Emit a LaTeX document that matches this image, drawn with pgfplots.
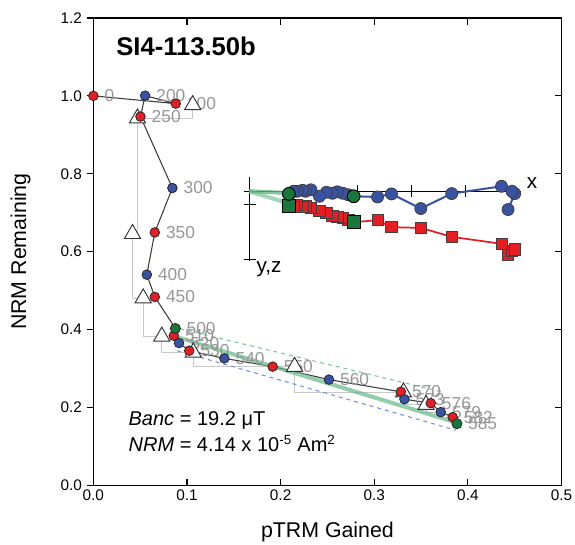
\documentclass[border=0pt]{standalone}
\usepackage{pgfplots}
\pgfplotsset{compat=1.18}
\usepackage{fontspec}
\setmainfont{Liberation Sans}
\definecolor{zblue}{RGB}{56,83,164}
\definecolor{zred}{RGB}{230,30,36}
\definecolor{zgreen}{RGB}{24,120,60}
\definecolor{fitgreen}{RGB}{100,185,135}
\definecolor{dgreen}{RGB}{120,200,150}
\definecolor{dblue}{RGB}{120,140,230}
\definecolor{lblgray}{RGB}{150,150,150}
\definecolor{ptrmgray}{RGB}{200,200,200}
\definecolor{linegray}{RGB}{60,60,60}
\begin{document}
\begin{tikzpicture}
\begin{axis}[name=ax, width=351pt, height=350.25pt, scale only axis,
  xmin=0, xmax=0.5, ymin=0, ymax=1.2,
  xtick={0,0.1,0.2,0.3,0.4,0.5}, ytick={0,0.2,0.4,0.6,0.8,1.0,1.2},
  xtick pos=both, xtick align=inside, ytick pos=left, ytick align=outside,
  major tick length=5pt,
  tick style={black, line width=0.8pt},
  axis line style={line width=1pt},
  /pgf/number format/assume math mode=true,
  xticklabel style={/pgf/number format/fixed,/pgf/number format/fixed zerofill,/pgf/number format/precision=1},
  yticklabel style={/pgf/number format/fixed,/pgf/number format/fixed zerofill,/pgf/number format/precision=1},
  tick label style={font=\fontsize{11.5}{13}\selectfont},
  xlabel={pTRM Gained}, ylabel={NRM Remaining},
  label style={font=\fontsize{16}{19}\selectfont},
  xlabel style={at={([yshift=-35pt]axis description cs:0.5,0)}, anchor=center},
  ylabel style={at={([xshift=-54.5pt]axis description cs:0,0.5)}, anchor=center},
  clip=false,
]
% point labels
\addplot[only marks, mark=none, nodes near coords, point meta=explicit symbolic,
  every node near coord/.append style={anchor=west, inner sep=0pt, xshift=8.25pt, text=lblgray, font=\fontsize{13}{15}\selectfont}]
 table[meta=label]{
x y label
0.0 1.0 0
0.0880 0.9800 100
0.0553 1.0005 200
0.0503 0.9468 250
0.0844 0.7633 300
0.0656 0.6492 350
0.0571 0.5407 400
0.0656 0.4836 450
0.0876 0.4025 500
0.0859 0.3838 510
0.0915 0.3651 520
0.1024 0.3454 530
0.1399 0.3257 540
0.1915 0.3045 550
0.2516 0.2712 560
0.3284 0.2398 570
0.3322 0.2208 573
0.3603 0.2106 576
0.3710 0.1876 579
0.3837 0.1748 582
0.3883 0.1579 585
};
% pTRM check staircase
\addplot[ptrmgray, line width=0.8pt] coordinates {
(0.1061,0.9767) (0.1061,0.9424) (0.0471,0.9424) (0.0471,0.6456) (0.0418,0.6456)
(0.0418,0.4803) (0.0532,0.4803) (0.0532,0.3820) (0.0731,0.3820) (0.0731,0.3411)
(0.1067,0.3411) (0.1067,0.3045) (0.2149,0.3045) (0.2149,0.2387) (0.3312,0.2387)
(0.3312,0.2065) (0.3553,0.2065) (0.3553,0.1868) (0.3766,0.1868)};
% pTRM check triangles
\addplot[only marks, mark=triangle*, mark size=7pt, mark options={fill=white, draw=black!80, line width=0.7pt}] coordinates {
(0.1061,0.9767) (0.0471,0.9424) (0.0418,0.6456) (0.0532,0.4803) (0.0731,0.3820)
(0.1067,0.3411) (0.2149,0.3045) (0.3312,0.2387) (0.3553,0.2065)};
% data path
\addplot[linegray, line width=0.8pt] coordinates {
(0.0,1.0) (0.0880,0.9800) (0.0553,1.0005) (0.0503,0.9468) (0.0844,0.7633)
(0.0656,0.6492) (0.0571,0.5407) (0.0656,0.4836) (0.0876,0.4025) (0.0859,0.3838)
(0.0915,0.3651) (0.1024,0.3454) (0.1399,0.3257) (0.1915,0.3045) (0.2516,0.2712)
(0.3284,0.2398) (0.3322,0.2208) (0.3603,0.2106) (0.3710,0.1876) (0.3837,0.1748)
(0.3883,0.1579)};
% red points
\addplot[only marks, mark=*, mark size=3.6pt, mark options={fill=zred, draw=black!85, line width=0.6pt}] coordinates {
(0.0,1.0) (0.0880,0.9800) (0.0503,0.9468) (0.0656,0.6492) (0.0656,0.4836)
(0.0859,0.3838) (0.1024,0.3454) (0.1915,0.3045) (0.3284,0.2398) (0.3603,0.2106)
(0.3837,0.1748)};
% blue points
\addplot[only marks, mark=*, mark size=3.6pt, mark options={fill=zblue, draw=black!85, line width=0.6pt}] coordinates {
(0.0553,1.0005) (0.0844,0.7633) (0.0571,0.5407) (0.0915,0.3651) (0.1399,0.3257)
(0.2516,0.2712) (0.3322,0.2208) (0.3710,0.1876)};
% green points
\addplot[only marks, mark=*, mark size=3.8pt, mark options={fill=zgreen, draw=black!85, line width=0.6pt}] coordinates {
(0.0876,0.4025) (0.3883,0.1579)};
% fit line and bounds
\addplot[fitgreen, opacity=0.7, line width=3pt] coordinates {(0.0883,0.3813) (0.3872,0.1612)};
\addplot[dgreen, dashed, line width=0.8pt] coordinates {(0.0926,0.4018) (0.3745,0.2385)};
\addplot[dblue, dashed, line width=0.8pt] coordinates {(0.0894,0.3454) (0.3872,0.1412)};
% ---- Zijderveld inset ----
\addplot[black, line width=0.7pt] coordinates {(0.1606,0.7549) (0.4564,0.7549)};
\addplot[black, line width=0.7pt] coordinates {(0.1663,0.7907) (0.1663,0.5757)};
\addplot[black, line width=0.7pt] coordinates {(0.2241,0.7702) (0.2241,0.7395)};
\addplot[black, line width=0.7pt] coordinates {(0.2819,0.7702) (0.2819,0.7395)};
\addplot[black, line width=0.7pt] coordinates {(0.3394,0.7702) (0.3394,0.7395)};
\addplot[black, line width=0.7pt] coordinates {(0.3979,0.7702) (0.3979,0.7395)};
\addplot[black, line width=0.7pt] coordinates {(0.1606,0.7208) (0.1740,0.7208)};
\addplot[black, line width=0.7pt] coordinates {(0.1606,0.5801) (0.1740,0.5801)};
% vertical projection (red squares)
\addplot[zred, line width=1.3pt, mark=square*, mark size=4.2pt, mark options={fill=zred, draw=black!75, line width=0.6pt}] coordinates {
(0.4429,0.5929) (0.4471,0.6013) (0.4500,0.6057) (0.4359,0.6200) (0.3827,0.6379)
(0.3497,0.6609) (0.3184,0.6627) (0.3035,0.6807) (0.2780,0.6755) (0.2723,0.6807)
(0.2665,0.6858) (0.2606,0.6883) (0.2553,0.6922) (0.2489,0.6998) (0.2415,0.7037)
(0.2324,0.7114) (0.2266,0.7165) (0.2234,0.7139) (0.2176,0.7190) (0.2138,0.7152)
(0.2088,0.7165)};
\addplot[fitgreen, opacity=0.6, line width=3pt] coordinates {(0.1663,0.7549) (0.2798,0.6717)};
\addplot[fitgreen, opacity=0.8, line width=3pt] coordinates {(0.1663,0.7549) (0.2798,0.7433)};
% horizontal projection (blue circles)
\addplot[zblue, line width=1.5pt, mark=*, mark size=4.5pt, mark options={fill=zblue, draw=black!75, line width=0.6pt}] coordinates {
(0.4429,0.7080) (0.4500,0.7490) (0.4471,0.7549) (0.4359,0.7677) (0.3827,0.7490)
(0.3497,0.7106) (0.3184,0.7482) (0.3035,0.7403) (0.2780,0.7421) (0.2723,0.7459)
(0.2665,0.7497) (0.2606,0.7536) (0.2553,0.7497) (0.2489,0.7523) (0.2415,0.7421)
(0.2324,0.7587) (0.2266,0.7549) (0.2234,0.7574) (0.2176,0.7549) (0.2138,0.7549)
(0.2088,0.7482)};
% fit end points
\addplot[only marks, mark=square*, mark size=4.8pt, mark options={fill=zgreen, draw=black, line width=0.7pt}] coordinates {(0.2780,0.6755) (0.2088,0.7165)};
\addplot[only marks, mark=*, mark size=4.8pt, mark options={fill=zgreen, draw=black, line width=0.7pt}] coordinates {(0.2780,0.7421) (0.2088,0.7482)};
\node[anchor=center, inner sep=0pt, font=\fontsize{15.5}{18}\selectfont] at (axis cs:0.4684,0.7770) {x};
\node[anchor=north west, inner sep=0pt, font=\fontsize{15.5}{18}\selectfont] at (axis cs:0.1741,0.5757) {y,z};
% texts
\node[anchor=base west, inner sep=0pt, font=\fontsize{19.2}{23}\selectfont\bfseries] at (rel axis cs:0.0485,0.9208) {SI4-113.50b};
\node[anchor=base west, inner sep=0pt, font=\fontsize{15}{18}\selectfont] at (rel axis cs:0.0748,0.1285) {\textit{Banc} = 19.2 μT};
\node[anchor=base west, inner sep=0pt, font=\fontsize{15}{18}\selectfont] at (rel axis cs:0.0748,0.0713) {\textit{NRM} = 4.14 x 10\textsuperscript{\fontsize{10}{10}\selectfont -5} Am\textsuperscript{\fontsize{10}{10}\selectfont 2}};
\end{axis}
\begin{axis}[width=351pt, height=350.25pt, scale only axis,
  xmin=0, xmax=0.5, ymin=0, ymax=1.2, axis line style={draw=none},
  xtick=\empty, ytick={0,0.2,0.4,0.6,0.8,1.0,1.2}, ytick pos=right, ytick align=inside,
  yticklabels={}, major tick length=5pt, tick style={black, line width=0.8pt}]
\end{axis}
\pgfresetboundingbox
\path[use as bounding box] ([xshift=-70pt,yshift=-44.25pt]ax.south west) rectangle ([xshift=10.1pt,yshift=13.5pt]ax.north east);
\end{tikzpicture}
\end{document}
